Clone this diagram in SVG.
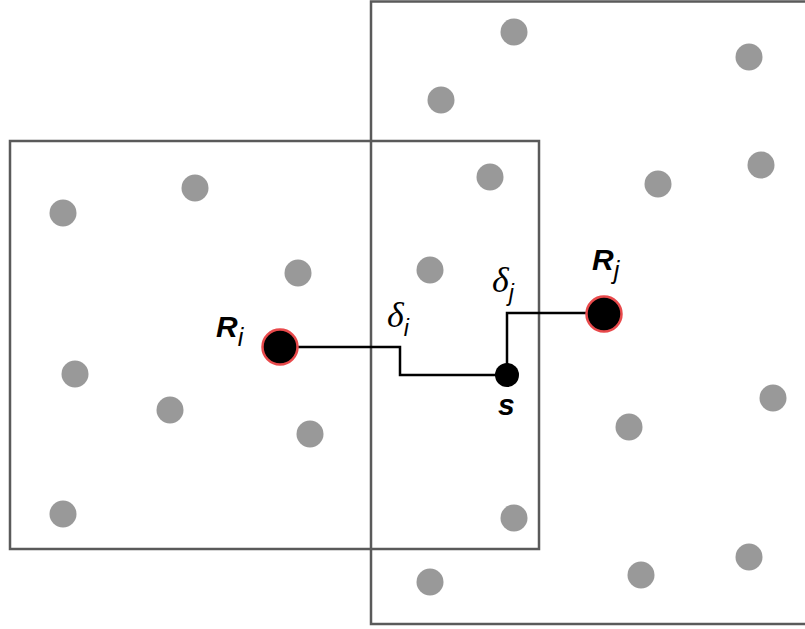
<svg xmlns="http://www.w3.org/2000/svg" width="805" height="629" viewBox="0 0 805 629">
<style>
.box{fill:none;stroke:#5a5a5a;stroke-width:2.5}
.dot{fill:#999999}
.big{fill:#000000;stroke:#e8494b;stroke-width:2.5}
.conn{fill:none;stroke:#000000;stroke-width:2.5}
.lbl{font-family:"Liberation Sans",Arial,sans-serif;font-weight:bold;font-style:italic;fill:#000000}
.sub{font-family:"Liberation Sans",Arial,sans-serif;font-style:italic;font-weight:normal;fill:#000000}
.gr{font-family:"Liberation Serif","Times New Roman",serif;font-style:italic;fill:#000000}
</style>
<rect width="805" height="629" fill="#ffffff"/>
<g id="box-right"><rect class="box" x="371" y="1.5" width="440" height="622.5"/></g>
<g id="box-left"><rect class="box" x="10" y="141" width="529" height="408"/></g>
<g id="points">
<circle class="dot" cx="63" cy="213" r="13.5"/>
<circle class="dot" cx="195" cy="188" r="13.5"/>
<circle class="dot" cx="298" cy="273" r="13.5"/>
<circle class="dot" cx="75" cy="374" r="13.5"/>
<circle class="dot" cx="170" cy="410" r="13.5"/>
<circle class="dot" cx="310" cy="434" r="13.5"/>
<circle class="dot" cx="63" cy="514" r="13.5"/>
<circle class="dot" cx="514" cy="32" r="13.5"/>
<circle class="dot" cx="441" cy="100" r="13.5"/>
<circle class="dot" cx="749" cy="57" r="13.5"/>
<circle class="dot" cx="490" cy="177" r="13.5"/>
<circle class="dot" cx="658" cy="184" r="13.5"/>
<circle class="dot" cx="761" cy="165" r="13.5"/>
<circle class="dot" cx="430" cy="270" r="13.5"/>
<circle class="dot" cx="773" cy="398" r="13.5"/>
<circle class="dot" cx="629" cy="427" r="13.5"/>
<circle class="dot" cx="514" cy="518" r="13.5"/>
<circle class="dot" cx="430" cy="582" r="13.5"/>
<circle class="dot" cx="641" cy="575" r="13.5"/>
<circle class="dot" cx="749" cy="557" r="13.5"/>
</g>
<g id="connectors">
<polyline class="conn" points="280,347 400,347 400,375 507,375"/>
<polyline class="conn" points="507,375 507,313 604,313"/>
</g>
<g id="Ri">
<circle class="big" cx="280" cy="347" r="17.5"/>
<text class="lbl" x="216" y="337" font-size="30">R<tspan class="sub" font-size="25" dy="9">i</tspan></text>
</g>
<g id="Rj">
<circle class="big" cx="604" cy="314" r="17.5"/>
<text class="lbl" x="592" y="270" font-size="30">R<tspan class="sub" font-size="25" dy="9">j</tspan></text>
</g>
<g id="s">
<circle cx="507" cy="375" r="12" fill="#000000"/>
<text class="lbl" x="498" y="415" font-size="30">s</text>
</g>
<g id="delta-i">
<text class="gr" x="387" y="327" font-size="36">δ<tspan class="sub" font-size="23" dy="9">i</tspan></text>
</g>
<g id="delta-j">
<text class="gr" x="492" y="292" font-size="36">δ<tspan class="sub" font-size="23" dy="9">j</tspan></text>
</g>
</svg>
